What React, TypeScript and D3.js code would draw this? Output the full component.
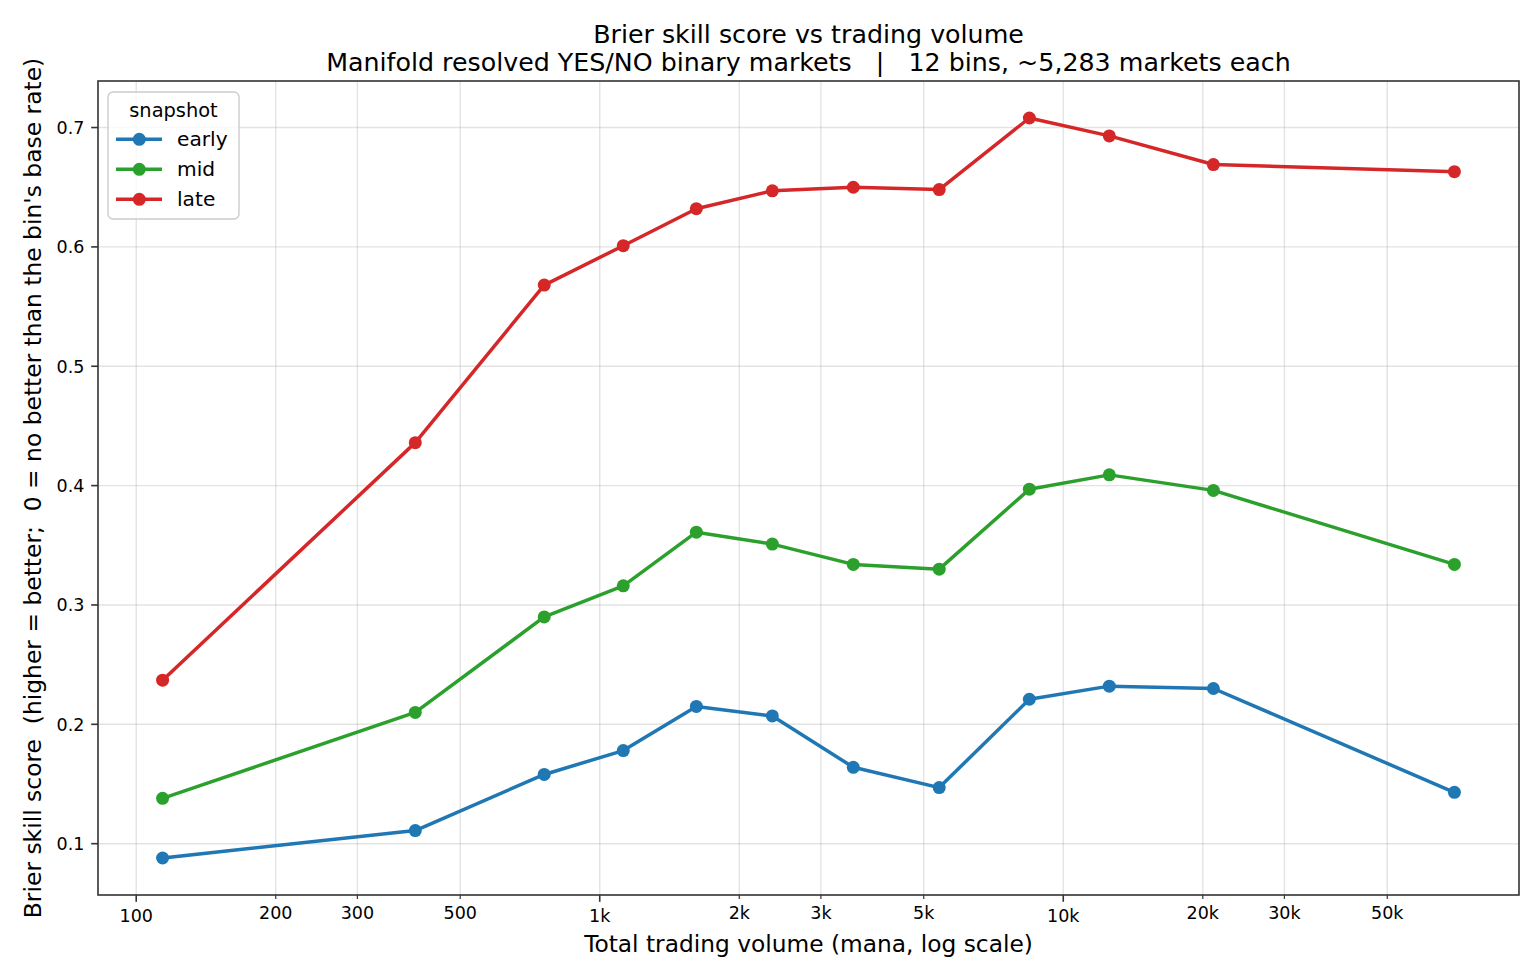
import React from "react";
import * as d3 from "d3";

const volumes = [114, 400, 759, 1124, 1616, 2357, 3524, 5400, 8450, 12570, 21080, 69800];
const early = [0.088, 0.111, 0.158, 0.178, 0.215, 0.207, 0.164, 0.147, 0.221, 0.232, 0.230, 0.143];
const mid = [0.138, 0.210, 0.290, 0.316, 0.361, 0.351, 0.334, 0.330, 0.397, 0.409, 0.396, 0.334];
const late = [0.237, 0.436, 0.568, 0.601, 0.632, 0.647, 0.650, 0.648, 0.708, 0.693, 0.669, 0.663];

const seriesNames = ["early", "mid", "late"];
const seriesColors = ["#1f77b4", "#2ca02c", "#d62728"];

const xMajorTicks = [100, 1000, 10000];
const xMajorLabels = ["100", "1k", "10k"];
const xMinorTicks = [200, 300, 500, 2000, 3000, 5000, 20000, 30000, 50000];
const xMinorLabels = ["200", "300", "500", "2k", "3k", "5k", "20k", "30k", "50k"];
const yTicks = [0.1, 0.2, 0.3, 0.4, 0.5, 0.6, 0.7];
const yTickLabels = ["0.1", "0.2", "0.3", "0.4", "0.5", "0.6", "0.7"];

const titleLine1 = "Brier skill score vs trading volume";
const titleLine2 = "Manifold resolved YES/NO binary markets   |   12 bins, ~5,283 markets each";
const xLabel = "Total trading volume (mana, log scale)";
const yLabel = "Brier skill score  (higher = better;  0 = no better than the bin's base rate)";
const legendTitle = "snapshot";

const W = 1540;
const H = 980;
const M = { left: 98, right: 21, top: 81, bottom: 85 };
const FONT = "'DejaVu Sans', sans-serif";

export default function App() {
  const series = [early, mid, late];
  const innerW = W - M.left - M.right;
  const innerH = H - M.top - M.bottom;

  const lx = volumes.map((v) => Math.log10(v));
  const lxMin = d3.min(lx)!;
  const lxMax = d3.max(lx)!;
  const lxr = lxMax - lxMin;
  const x = d3
    .scaleLog()
    .domain([Math.pow(10, lxMin - 0.05 * lxr), Math.pow(10, lxMax + 0.05 * lxr)])
    .range([M.left, M.left + innerW]);

  const allY = series.flat();
  const yMin = d3.min(allY)!;
  const yMax = d3.max(allY)!;
  const yr = yMax - yMin;
  const y = d3
    .scaleLinear()
    .domain([yMin - 0.05 * yr, yMax + 0.05 * yr])
    .range([M.top + innerH, M.top]);

  const line = d3
    .line<number>()
    .x((_, i) => x(volumes[i]))
    .y((d) => y(d));

  const bottom = M.top + innerH;
  const right = M.left + innerW;
  const gridStyle = { stroke: "#b0b0b0", strokeOpacity: 0.35, strokeWidth: 1.4 };
  const tickColor = "#333";

  const legendX = 108;
  const legendY = 92;
  const legendRowY = [139.3, 169.3, 199.3];

  return (
    <svg
      width={W}
      height={H}
      style={{ position: "absolute", left: 0, top: 0, background: "#fff" }}
      fontFamily={FONT}
    >
      <rect x={0} y={0} width={W} height={H} fill="#fff" />
      {/* grid */}
      {[...xMajorTicks, ...xMinorTicks].map((t) => (
        <line key={"gx" + t} x1={x(t)} x2={x(t)} y1={M.top} y2={bottom} {...gridStyle} />
      ))}
      {yTicks.map((t) => (
        <line key={"gy" + t} x1={M.left} x2={right} y1={y(t)} y2={y(t)} {...gridStyle} />
      ))}

      {/* series */}
      {series.map((s, si) => (
        <g key={seriesNames[si]}>
          <path d={line(s) || ""} fill="none" stroke={seriesColors[si]} strokeWidth={3.5} strokeLinejoin="round" strokeLinecap="square" />
          {s.map((v, i) => (
            <circle key={i} cx={x(volumes[i])} cy={y(v)} r={6.5} fill={seriesColors[si]} />
          ))}
        </g>
      ))}

      {/* frame */}
      <rect x={M.left} y={M.top} width={innerW} height={innerH} fill="none" stroke={tickColor} strokeWidth={1.6} />

      {/* x ticks */}
      {xMajorTicks.map((t, i) => (
        <g key={"xm" + t}>
          <line x1={x(t)} x2={x(t)} y1={bottom} y2={bottom + 6.8} stroke={tickColor} strokeWidth={1.6} />
          <text x={x(t)} y={bottom + 27} textAnchor="middle" fontSize={17.5} fill="#000">
            {xMajorLabels[i]}
          </text>
        </g>
      ))}
      {xMinorTicks.map((t, i) => (
        <g key={"xn" + t}>
          <line x1={x(t)} x2={x(t)} y1={bottom} y2={bottom + 3.9} stroke={tickColor} strokeWidth={1.2} />
          <text x={x(t)} y={bottom + 24} textAnchor="middle" fontSize={17.5} fill="#000">
            {xMinorLabels[i]}
          </text>
        </g>
      ))}

      {/* y ticks */}
      {yTicks.map((t, i) => (
        <g key={"yt" + t}>
          <line x1={M.left - 6.8} x2={M.left} y1={y(t)} y2={y(t)} stroke={tickColor} strokeWidth={1.6} />
          <text x={M.left - 13.6} y={y(t) + 6.4} textAnchor="end" fontSize={17.5} fill="#000">
            {yTickLabels[i]}
          </text>
        </g>
      ))}

      {/* titles */}
      <text x={(M.left + right) / 2} y={42.5} textAnchor="middle" fontSize={25.3} fill="#000">
        {titleLine1}
      </text>
      <text x={(M.left + right) / 2} y={71} textAnchor="middle" fontSize={25.3} fill="#000" style={{ whiteSpace: "pre" }}>
        {titleLine2}
      </text>
      <text x={(M.left + right) / 2} y={952} textAnchor="middle" fontSize={23.3} fill="#000">
        {xLabel}
      </text>
      <text
        transform={`translate(41, ${(M.top + bottom) / 2}) rotate(-90)`}
        textAnchor="middle"
        fontSize={23.4}
        fill="#000"
        style={{ whiteSpace: "pre" }}
      >
        {yLabel}
      </text>

      {/* legend */}
      <rect x={legendX} y={legendY} width={131} height={127} rx={5} fill="#fff" fillOpacity={0.8} stroke="#cccccc" strokeWidth={1.4} />
      <text x={legendX + 65.5} y={117} textAnchor="middle" fontSize={19.4} fill="#000">
        {legendTitle}
      </text>
      {seriesNames.map((n, i) => (
        <g key={"lg" + n}>
          <line x1={116} x2={162} y1={legendRowY[i]} y2={legendRowY[i]} stroke={seriesColors[i]} strokeWidth={3.5} />
          <circle cx={139.3} cy={legendRowY[i]} r={6.5} fill={seriesColors[i]} />
          <text x={177} y={legendRowY[i] + 7} fontSize={20.2} fill="#000">
            {n}
          </text>
        </g>
      ))}
    </svg>
  );
}
